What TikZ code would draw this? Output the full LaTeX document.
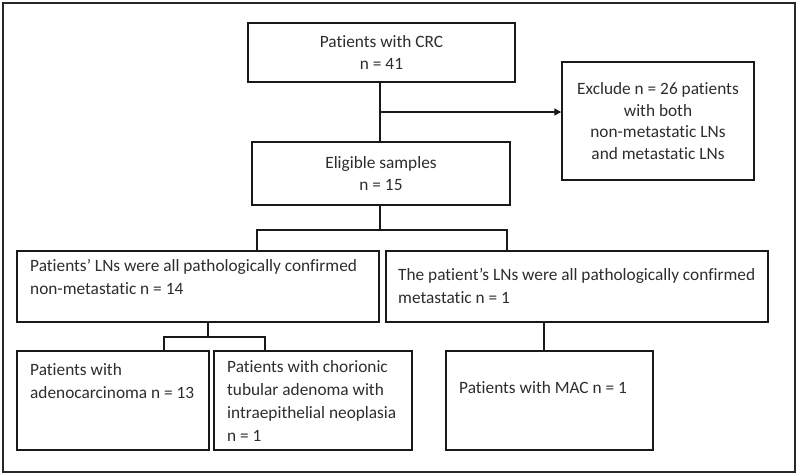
\documentclass[tikz,border=0pt]{standalone}
\usepackage{fontspec}
\setmainfont{Carlito}[Ligatures=NoCommon]
\usepackage{tikz}
\usetikzlibrary{arrows.meta, calc}
\definecolor{LineColor}{RGB}{25,25,25}
\definecolor{TextColor}{RGB}{45,45,45}
\definecolor{FrameColor}{RGB}{40,40,40}
\tikzset{
  box/.style={draw=LineColor, line width=1.5pt, rectangle, inner sep=0pt},
  boxtext/.style={text=TextColor, font=\fontsize{17.3}{21.5}\selectfont, align=center},
  lefttext/.style={text=TextColor, font=\fontsize{17.3}{23}\selectfont, align=left, inner sep=0pt, anchor=north west},
  link/.style={draw=LineColor, line width=1.4pt},
  arrow/.style={link, -{Triangle[length=7pt, width=7pt]}}
}

\begin{document}
\begin{tikzpicture}[x=1pt, y=-1pt]
                \useasboundingbox (0,0) rectangle (800,475);
                % Frame
                \draw[FrameColor, line width=1.5pt] (3,3) rectangle (795,472);

                % Top boxes
                \node[box, boxtext, minimum width=267pt, minimum height=59pt] (crc) at (381.5,52.5) {Patients with CRC\\n = 41};
                \node[box, boxtext, minimum width=192pt, minimum height=118pt] (excl) at (658,121) {Exclude n = 26 patients\\with both\\non-metastatic LNs\\and metastatic LNs};
                \node[box, boxtext, minimum width=258pt, minimum height=63pt] (elig) at (381,173.5) {Eligible samples\\n = 15};

                % Second level
                \node[box, minimum width=362pt, minimum height=71pt] (nonmet) at (198,286.5) {};
                \node[lefttext] (nonmettext) at (30,259) {Patients’ LNs were all pathologically confirmed\\non-metastatic n = 14};
                \node[box, minimum width=382pt, minimum height=71pt] (met) at (577,286.5) {};
                \node[lefttext] (mettext) at (398,268) {The patient’s LNs were all pathologically confirmed\\metastatic n = 1};

                % Third level
                \node[box, minimum width=192pt, minimum height=99pt] (adeno) at (113,400.5) {};
                \node[lefttext] (adenotext) at (30,363) {Patients with\\adenocarcinoma n = 13};
                \node[box, minimum width=198pt, minimum height=99pt] (tub) at (313,400.5) {};
                \node[lefttext] (tubtext) at (227,360) {Patients with chorionic\\tubular adenoma with\\intraepithelial neoplasia\\n = 1};
                \node[box, minimum width=207pt, minimum height=99pt] (mac) at (549.5,400.5) {};
                \node[lefttext] (mactext) at (459,381) {Patients with MAC n = 1};

                % Connectors
                \coordinate (split) at (380,112);
                \draw[link] (crc.south -| split) -- (elig.north -| split);
                \draw[arrow] (split) -- (split -| excl.west);

                \coordinate (barL) at (257,230);
                \coordinate (barR) at (507,230);
                \draw[link] (elig.south -| split) -- (barL -| split);
                \draw[link] (nonmet.north -| barL) -- (barL) -- (barR) -- (met.north -| barR);

                \coordinate (subL) at (164,337);
                \coordinate (subR) at (265,337);
                \draw[link] (nonmet.south -| 208,0) -- (subL -| 208,0);
                \draw[link] (adeno.north -| subL) -- (subL) -- (subR) -- (tub.north -| subR);

                \coordinate (macup) at (544,322);
                \draw[link] (met.south -| macup) -- (mac.north -| macup);
\end{tikzpicture}
\end{document}
